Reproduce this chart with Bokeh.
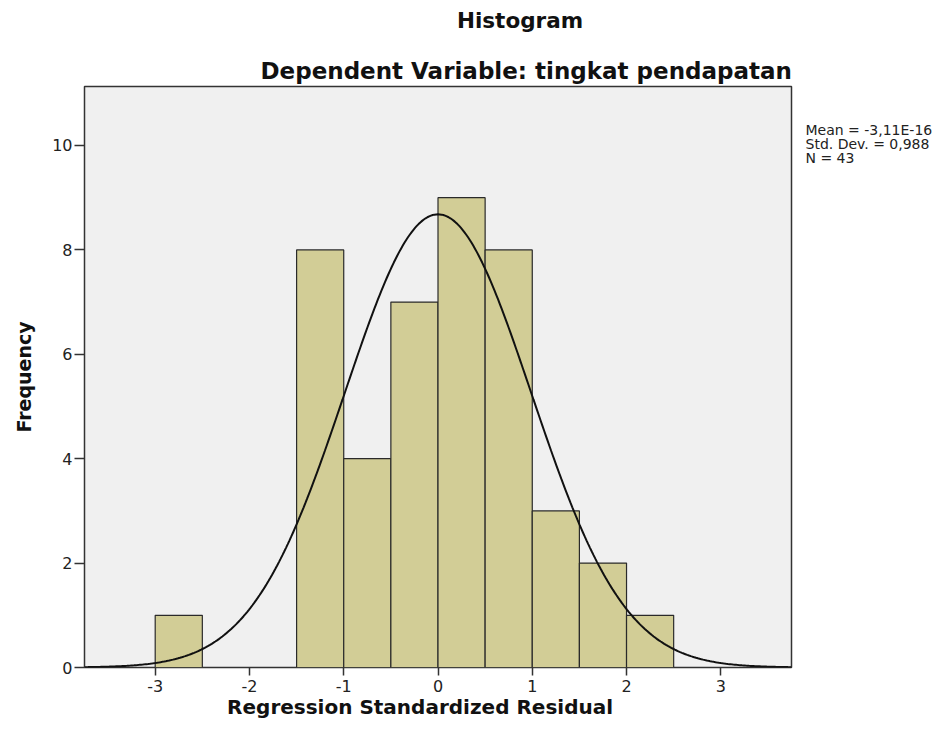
import numpy as np
from bokeh.plotting import figure
from bokeh.models import Range1d, FixedTicker, LinearAxis, Title
from bokeh.embed import file_html
from bokeh.resources import INLINE

# ---- data ----
bin_left = [-3.0, -1.5, -1.0, -0.5, 0.0, 0.5, 1.0, 1.5, 2.0]
counts = [1, 8, 4, 7, 9, 8, 3, 2, 1]
bin_width = 0.5

stat_mean = -3.11e-16
stat_sd = 0.988
stat_n = 43
stat_lines = ["Mean = -3,11E-16", "Std. Dev. = 0,988", "N = 43"]

x_ticks = [-3, -2, -1, 0, 1, 2, 3]
y_ticks = [0, 2, 4, 6, 8, 10]

title_text = "Histogram"
subtitle_text = "Dependent Variable: tingkat pendapatan"
x_label = "Regression Standardized Residual"
y_label = "Frequency"

# ---- figure ----
p = figure(width=935, height=721, output_backend="svg", toolbar_location=None,
           x_range=Range1d(-3.75, 3.75), y_range=Range1d(0, 11.13),
           min_border_left=84, min_border_right=143,
           min_border_top=86, min_border_bottom=53)
p.background_fill_color = "#F0F0F0"
p.border_fill_color = "white"
p.outline_line_color = "#333333"
p.outline_line_width = 1.5
p.xgrid.visible = False
p.ygrid.visible = False

bin_right = [b + bin_width for b in bin_left]
p.quad(left=bin_left, right=bin_right, bottom=0, top=counts,
       fill_color="#D2CD96", line_color="#2a2a2a", line_width=1.2)

xs = np.linspace(-3.75, 3.75, 401)
ys = stat_n * bin_width * np.exp(-0.5 * ((xs - stat_mean) / stat_sd) ** 2) / (stat_sd * np.sqrt(2 * np.pi))
p.line(xs, ys, line_color="#111111", line_width=2)

for ax, ticks in ((p.xaxis, x_ticks), (p.yaxis, y_ticks)):
    ax.ticker = FixedTicker(ticks=ticks)
    ax.major_label_overrides = {t: str(t) for t in ticks}
    ax.minor_tick_line_color = None
    ax.axis_line_color = None
    ax.major_tick_line_color = "#333333"
    ax.major_tick_line_width = 1.5
    ax.major_tick_in = 0
    ax.major_label_text_font = "DejaVu Sans"
    ax.major_label_text_font_size = "16px"
    ax.major_label_text_color = "#222222"
    ax.axis_label_text_font = "DejaVu Sans"
    ax.axis_label_text_font_style = "bold"
    ax.axis_label_text_color = "#111111"

p.xaxis.major_tick_out = 8
p.xaxis.major_label_standoff = 4

p.yaxis.major_tick_out = 10
p.yaxis.major_label_standoff = 2
p.yaxis.axis_label = y_label
p.yaxis.axis_label_text_font_size = "19px"
p.yaxis.axis_label_standoff = 14

# x-axis title, placed (slightly left of centre, as in the reference) as the label of a bare bottom axis
x_label_pos = -0.19
xlabel_axis = LinearAxis(ticker=FixedTicker(ticks=[x_label_pos]),
                         major_label_overrides={x_label_pos: x_label},
                         axis_line_color=None, major_tick_line_color=None,
                         minor_tick_line_color=None, major_tick_out=0, major_tick_in=0,
                         major_label_standoff=0,
                         major_label_text_font="DejaVu Sans",
                         major_label_text_font_style="bold",
                         major_label_text_font_size="20px",
                         major_label_text_color="#111111")
p.add_layout(xlabel_axis, "below")

# statistics box to the right of the frame (drawn as labels of a bare right axis)
stat_y = [10.29 - 0.262 * i for i in range(len(stat_lines))]
stats_axis = LinearAxis(ticker=FixedTicker(ticks=stat_y),
                        major_label_overrides={y: s for y, s in zip(stat_y, stat_lines)},
                        axis_line_color=None, major_tick_line_color=None,
                        minor_tick_line_color=None, major_tick_out=0, major_tick_in=0,
                        major_label_standoff=14,
                        major_label_text_font="DejaVu Sans",
                        major_label_text_font_size="14px",
                        major_label_text_color="#222222")
p.add_layout(stats_axis, "right")

# subtitle (closest to the frame)
p.add_layout(Title(text=subtitle_text, align="left", offset=176, standoff=6,
                   vertical_align="bottom",
                   text_font="DejaVu Sans", text_font_style="bold", text_font_size="23px",
                   text_color="#111111"), "above")
# main title, placed as the single label of a bare top axis
title_x = 0.87
title_axis = LinearAxis(ticker=FixedTicker(ticks=[title_x]),
                        major_label_overrides={title_x: title_text},
                        axis_line_color=None, major_tick_line_color=None,
                        minor_tick_line_color=None, major_tick_out=0, major_tick_in=0,
                        major_label_standoff=20,
                        major_label_text_font="DejaVu Sans",
                        major_label_text_font_style="bold",
                        major_label_text_font_size="21.5px",
                        major_label_text_color="#111111")
p.add_layout(title_axis, "above")

open("out.html", "w").write(file_html(p, INLINE))
